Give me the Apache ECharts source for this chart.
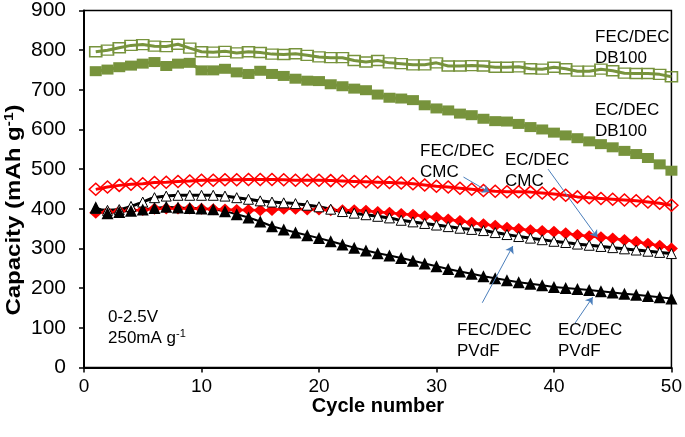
<!DOCTYPE html>
<html><head><meta charset="utf-8">
<script src="https://cdn.jsdelivr.net/npm/echarts@6/dist/echarts.min.js"></script>
<style>html,body{margin:0;padding:0;background:#fff}#c{width:685px;height:437px}</style>
</head><body><div id="c"></div>
<script>
const cycles = Array.from({length:50},(_,i)=>i+1);
const xTicks = [0,10,20,30,40,50];
const yTicks = [0,100,200,300,400,500,600,700,800,900];
const fecDB100 = [796,800,806,812,814,810,809,815,805,796, 795,797,793,796,794,790,789,791,787,783, 781,781,774,770,774,768,766,763,763,768, 760,760,761,760,757,757,758,753,752,757, 753,747,747,752,748,742,741,741,739,733];
const ecDB100 = [747,751,757,761,766,770,760,766,768,749, 749,753,744,740,748,740,735,728,723,722, 714,709,703,699,688,680,678,674,661,653, 648,640,636,627,621,620,614,606,600,592, 585,578,570,563,555,546,538,528,512,496];
const fecCMC = [449,455,459,462,463,466,467,469,470,472, 472,473,473,474,474,474,473,472,472,472, 471,470,469,468,467,466,465,463,460,457, 455,452,449,446,444,443,443,442,440,437, 434,430,428,426,424,422,420,417,414,409];
const ecCMC = [390,391,394,396,397,400,401,401,401,400, 399,398,397,397,396,397,400,400,398,398, 396,396,396,395,392,390,387,385,381,378, 373,369,365,361,357,352,349,346,344,342, 338,334,331,328,325,321,317,312,307,300];
const fecPVdF = [401,396,398,406,417,428,432,434,434,434, 434,432,428,424,420,417,415,413,409,405, 399,393,389,385,381,377,371,367,363,359, 355,351,348,345,340,335,330,326,322,318, 315,311,308,305,302,299,296,293,290,287];
const ecPVdF = [404,389,392,395,398,402,405,403,402,401, 399,394,386,378,368,356,348,340,333,326, 318,310,302,295,288,282,276,269,262,255, 248,242,236,230,225,220,215,211,207,203, 200,198,195,192,189,186,183,180,177,174];
const arrows = [
  [[32.3,480],[34.5,442]],
  [[39.5,500],[43.7,328]],
  [[33.9,163],[36.5,306]],
  [[41.8,112],[43.3,177]]
];
const pair = a => cycles.map((c,i)=>[c,a[i]]);
const GREEN = '#77933C', RED = '#FF0000', BLACK = '#000000';
const FONT = '"Liberation Sans", Arial, sans-serif';

const chart = echarts.init(document.getElementById('c'), null, {renderer:'canvas'});
function ser(name, data, symbol, size, fill, border, bw, lineColor, lw, smooth){
  return {name, type:'line', data:pair(data), symbol, symbolSize:size, smooth:!!smooth,
    showAllSymbol:true, animation:false,
    itemStyle:{color:fill, borderColor:border, borderWidth:bw},
    lineStyle:{color:lineColor, width:lw}};
}
const series = [
  ser('EC/DEC DB100', ecDB100, 'rect', [12,10], GREEN, GREEN, 0, GREEN, 3),
  ser('FEC/DEC DB100', fecDB100, 'rect', [12,10], 'rgba(0,0,0,0)', GREEN, 1.5, GREEN, 3),
  ser('EC/DEC CMC', ecCMC, 'diamond', [13,12], RED, RED, 0, RED, 2.5),
  ser('FEC/DEC CMC', fecCMC, 'diamond', [13,12], 'rgba(0,0,0,0)', RED, 1.5, RED, 3),
  ser('FEC/DEC PVdF', fecPVdF, 'triangle', [10,10], '#fff', BLACK, 1, BLACK, 3, true),
  ser('EC/DEC PVdF', ecPVdF, 'triangle', [12,12], BLACK, BLACK, 0, BLACK, 2)
];
series[0].markLine = {silent:true, symbol:['none','arrow'], symbolSize:7, animation:false,
  label:{show:false}, lineStyle:{color:'#4A7EBB', width:1, type:'solid'},
  data: arrows.map(a=>[{coord:a[0]},{coord:a[1]}])};

function label(text, x, y){
  return {type:'text', x, y, silent:true, style:{text, font:'17px '+FONT, fill:'#000', lineHeight:21, textVerticalAlign:'top'}};
}
chart.setOption({
  animation:false,
  grid:{left:84, right:13, top:10.4, bottom:69.6, show:true, borderColor:'#000', borderWidth:1.5, backgroundColor:'transparent'},
  xAxis:{type:'value', min:0, max:50, interval:10, splitLine:{show:false},
    axisLine:{lineStyle:{color:'#000', width:2}}, axisTick:{show:true, length:5, lineStyle:{color:'#000', width:1.5}},
    axisLabel:{color:'#000', fontSize:19, fontFamily:FONT, margin:10, formatter:v=>xTicks.includes(v)?String(v):''}},
  yAxis:{type:'value', min:0, max:900, interval:100, splitLine:{show:false},
    axisLine:{show:true, lineStyle:{color:'#000', width:2}}, axisTick:{show:true, length:5, lineStyle:{color:'#000', width:1.5}},
    axisLabel:{color:'#000', fontSize:21, fontFamily:FONT, margin:18, formatter:v=>yTicks.includes(v)?String(v):''}},
  series,
  graphic:[
    label('FEC/DEC\nDB100', 595, 27),
    label('EC/DEC\nDB100', 595, 100),
    label('FEC/DEC\nCMC', 420, 141),
    label('EC/DEC\nCMC', 505, 150),
    label('FEC/DEC\nPVdF', 457, 320),
    label('EC/DEC\nPVdF', 558, 320),
    {type:'text', x:108, y:307, silent:true, style:{text:'0-2.5V\n250mA g{s|-1}', font:'17px '+FONT, fill:'#000', lineHeight:21, textVerticalAlign:'top',
      rich:{s:{fontSize:11, fontFamily:FONT, verticalAlign:'top', padding:[0,0,8,0]}}}},
    {type:'text', x:14, y:210, rotation:Math.PI/2, scaleX:1.2, silent:true, style:{text:'Capacity (mAh g{s|-1})', font:'bold 20px '+FONT, fill:'#000', textAlign:'center', textVerticalAlign:'middle',
      rich:{s:{fontSize:13, fontWeight:'bold', fontFamily:FONT, padding:[0,0,10,0]}}}},
    {type:'text', x:378, y:406, silent:true, style:{text:'Cycle number', font:'bold 20px '+FONT, fill:'#000', textAlign:'center', textVerticalAlign:'middle'}}
  ]
});
</script></body></html>
